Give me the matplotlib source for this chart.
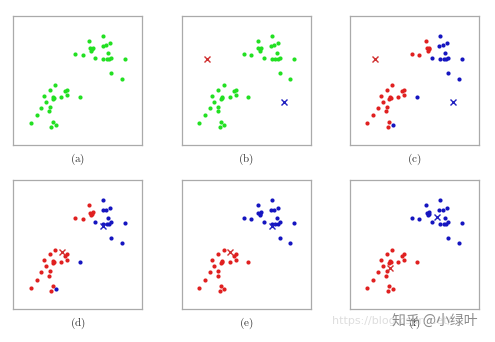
import numpy as np
import matplotlib
matplotlib.use("Agg")
import matplotlib.pyplot as plt

plt.rcParams['mathtext.fontset'] = 'cm'

# Data points (standardised coordinates)
xs = np.array([0.79, 0.36, 0.38, 0.44, 0.42, 0.46, 0.77, 0.87, 1.00, -0.08,
               0.15, 0.54, 0.94, 0.79, 0.90, 0.98, 1.04, 1.47, 1.04, 1.37,
               -0.70, -0.86, -0.39, -0.32, -1.05, -0.76, -0.74, -0.78, -0.51, -0.32,
               0.07, -0.99, -0.86, -1.13, -0.88, -1.28, -1.46, -0.78, -0.68, -0.82])
ys = np.array([1.38, 1.24, 1.00, 0.97, 0.92, 1.02, 1.07, 1.09, 1.15, 0.82,
               0.80, 0.70, 0.84, 0.66, 0.66, 0.66, 0.70, 0.68, 0.22, 0.06,
               -0.15, -0.30, -0.34, -0.30, -0.48, -0.50, -0.54, -0.56, -0.52, -0.46,
               -0.52, -0.67, -0.81, -0.85, -0.96, -1.08, -1.33, -1.29, -1.37, -1.43])

# cluster assignment: 0 = red, 1 = blue
labels_cd = [1, 0, 0, 0, 0, 0, 1, 1, 1, 0,
             0, 1, 1, 1, 1, 1, 1, 1, 1, 1,
             0, 0, 0, 0, 0, 0, 0, 0, 0, 0,
             1, 0, 0, 0, 0, 0, 0, 0, 1, 0]
labels_ef = [1] * 20 + [0] * 20

# cluster centres per step (red, blue)
centres_bc = [(-1.21, 0.67), (1.18, -0.68)]
centres_de = [(-0.50, -0.23), (0.79, 0.57)]
centres_f = [(-0.76, -0.72), (0.71, 0.86)]

panel_names = ['(a)', '(b)', '(c)', '(d)', '(e)', '(f)']

GREEN = '#22e022'
RED = '#e02020'
BLUE = '#1515c0'
CROSS_COLS = ['#d03030', '#2020c0']

fig = plt.figure(figsize=(4.95, 3.42), dpi=100)

lefts = [13.3, 181.7, 350.0]
tops = [16.0, 180.3]
size = 129.0
W, H = 495.0, 342.0

panels = [
    (None, None),
    (None, centres_bc),
    (labels_cd, centres_bc),
    (labels_cd, centres_de),
    (labels_ef, centres_de),
    (labels_ef, centres_f),
]

for i, (labels, centres) in enumerate(panels):
    row, col = divmod(i, 3)
    ax = fig.add_axes([lefts[col] / W, 1 - (tops[row] + size) / H, size / W, size / H])
    if labels is None:
        ax.plot(xs, ys, 'o', color=GREEN, ms=3.0, mew=0)
    else:
        lab = np.array(labels)
        ax.plot(xs[lab == 0], ys[lab == 0], 'o', color=RED, ms=3.0, mew=0)
        ax.plot(xs[lab == 1], ys[lab == 1], 'o', color=BLUE, ms=3.0, mew=0)
    if centres is not None:
        for (cx, cy), c in zip(centres, CROSS_COLS):
            ax.plot(cx, cy, 'x', color=c, ms=4.5, mew=1.0)
    ax.set_xlim(-2, 2)
    ax.set_ylim(-2, 2)
    ax.set_xticks([])
    ax.set_yticks([])
    for sp in ax.spines.values():
        sp.set_color('#aaaaaa')
        sp.set_linewidth(0.9)
    ax.text(0.5, -0.11, r'$\mathrm{%s}$' % panel_names[i], transform=ax.transAxes,
            ha='center', va='center', fontsize=8, color='#333333')

# watermarks (they overlap the (f) label in the original too)
fig.text(332 / W, 1 - 321 / H, 'https://blog.csdn.net/', fontsize=8,
         color='#dedede', va='center', ha='left')
fig.text(392 / W, 1 - 321 / H, '知乎 @小绿叶', fontsize=10, color='#8c8c8c',
         va='center', ha='left', family=['Noto Sans CJK SC', 'DejaVu Sans'])

fig.savefig('out.png', dpi=100)
